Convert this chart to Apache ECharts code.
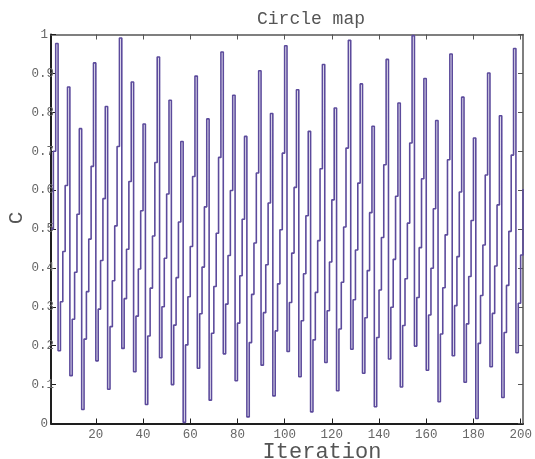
<!DOCTYPE html>
<html>
<head>
<meta charset="utf-8">
<script src="https://cdn.jsdelivr.net/npm/echarts@6/dist/echarts.min.js"></script>
<style>html,body{margin:0;padding:0;background:#fff;}#c{width:535px;height:459px;}</style>
</head>
<body>
<div id="c"></div>
<script>
// Circle map values, iterations 1..201
var cValues = [
0.500,0.700,0.977,0.187,0.313,0.442,0.612,0.865,0.123,0.268,
0.389,0.538,0.758,0.036,0.217,0.339,0.474,0.661,0.927,0.161,
0.294,0.419,0.578,0.815,0.088,0.249,0.367,0.508,0.712,0.991,
0.193,0.321,0.448,0.622,0.878,0.133,0.276,0.397,0.547,0.770,
0.049,0.225,0.348,0.482,0.671,0.942,0.169,0.300,0.425,0.590,
0.831,0.100,0.253,0.375,0.518,0.725,0.003,0.202,0.326,0.455,
0.635,0.893,0.142,0.282,0.402,0.557,0.783,0.060,0.232,0.352,
0.489,0.684,0.955,0.179,0.307,0.432,0.599,0.844,0.110,0.258,
0.380,0.525,0.738,0.017,0.208,0.332,0.464,0.644,0.907,0.150,
0.285,0.408,0.567,0.797,0.071,0.238,0.359,0.498,0.695,0.971,
0.185,0.311,0.438,0.607,0.858,0.120,0.264,0.385,0.534,0.751,
0.030,0.215,0.337,0.470,0.655,0.923,0.157,0.290,0.415,0.575,
0.811,0.084,0.243,0.363,0.505,0.708,0.985,0.191,0.318,0.446,
0.618,0.873,0.129,0.272,0.393,0.542,0.764,0.043,0.221,0.343,
0.478,0.665,0.936,0.166,0.299,0.422,0.584,0.824,0.094,0.252,
0.372,0.515,0.721,0.997,0.199,0.324,0.452,0.629,0.887,0.137,
0.279,0.399,0.552,0.779,0.056,0.230,0.349,0.485,0.678,0.950,
0.174,0.303,0.429,0.595,0.839,0.106,0.256,0.378,0.522,0.734,
0.013,0.206,0.329,0.459,0.639,0.901,0.146,0.283,0.405,0.562,
0.791,0.067,0.234,0.355,0.494,0.690,0.964,0.182,0.309,0.433,
0.603
];
var iterations = cValues.map(function (_, i) { return String(i + 1); });
var xTickLabels = [20, 40, 60, 80, 100, 120, 140, 160, 180, 200];
var yMin = 0, yMax = 1, yStep = 0.1;
var titleText = 'Circle map';
var xName = 'Iteration';
var yName = 'C';

var FONT = '"Liberation Mono", "DejaVu Sans Mono", monospace';
var chart = echarts.init(document.getElementById('c'), null, {renderer: 'canvas'});

function isTick(idx, val) { return xTickLabels.indexOf(Number(val)) >= 0; }

chart.setOption({
  animation: false,
  backgroundColor: '#fff',
  grid: {left: 51, right: 12, top: 34.5, bottom: 35.5, containLabel: false},
  xAxis: [{
    type: 'category', data: iterations, boundaryGap: false, position: 'bottom',
    axisLine: {show: true, onZero: false, lineStyle: {color: '#1e1e1e', width: 2}},
    axisTick: {show: true, inside: true, length: 5, interval: isTick, lineStyle: {color: '#1e1e1e', width: 1}},
    axisLabel: {show: true, interval: isTick, margin: 5, color: '#666', fontFamily: FONT, fontSize: 12.5},
    splitLine: {show: false}
  }, {
    type: 'category', data: iterations, boundaryGap: false, position: 'top',
    axisLine: {show: true, onZero: false, lineStyle: {color: '#555', width: 1.5}},
    axisTick: {show: true, inside: true, length: 5, interval: isTick, lineStyle: {color: '#555', width: 1}},
    axisLabel: {show: false}, splitLine: {show: false}
  }],
  yAxis: [{
    type: 'value', min: yMin, max: yMax, interval: yStep, position: 'left',
    axisLine: {show: true, onZero: false, lineStyle: {color: '#1e1e1e', width: 2}},
    axisTick: {show: true, inside: true, length: 5, lineStyle: {color: '#1e1e1e', width: 1}},
    axisLabel: {
      show: true, margin: -3, color: '#666', fontFamily: FONT, fontSize: 12.5, align: 'right',
      formatter: function (v) {
        var t = Number(v.toFixed(1));
        if (t === 0 || t === 1) return '{s|' + t + '}';
        return '{n|' + t + '}';
      },
      rich: {
        s: {color: '#666', fontFamily: FONT, fontSize: 12.5, padding: [0, 6, 0, 0]},
        n: {color: '#666', fontFamily: FONT, fontSize: 12.5}
      }
    },
    splitLine: {show: false}
  }, {
    type: 'value', min: yMin, max: yMax, interval: yStep, position: 'right',
    axisLine: {show: true, onZero: false, lineStyle: {color: '#555', width: 1.5}},
    axisTick: {show: true, inside: true, length: 5, lineStyle: {color: '#555', width: 1}},
    axisLabel: {show: false}, splitLine: {show: false}
  }],
  series: [{
    type: 'line', step: 'end', data: cValues, xAxisIndex: 0, yAxisIndex: 0,
    showSymbol: false, symbol: 'none',
    lineStyle: {color: '#5c4b9c', width: 1.6},
    z: 1
  }],
  graphic: [
    {type: 'text', x: 311, y: 19.5, z: 10,
     style: {text: titleText, fill: '#555', font: '18px ' + FONT, textAlign: 'center', textVerticalAlign: 'middle'}},
    {type: 'text', x: 322, y: 452, z: 10,
     style: {text: xName, fill: '#555', font: '22px ' + FONT, textAlign: 'center', textVerticalAlign: 'middle'}},
    {type: 'text', x: 16, y: 218, rotation: Math.PI / 2, z: 10,
     style: {text: yName, fill: '#555', font: '21px ' + FONT, textAlign: 'center', textVerticalAlign: 'middle'}}
  ]
});
</script>
</body>
</html>
